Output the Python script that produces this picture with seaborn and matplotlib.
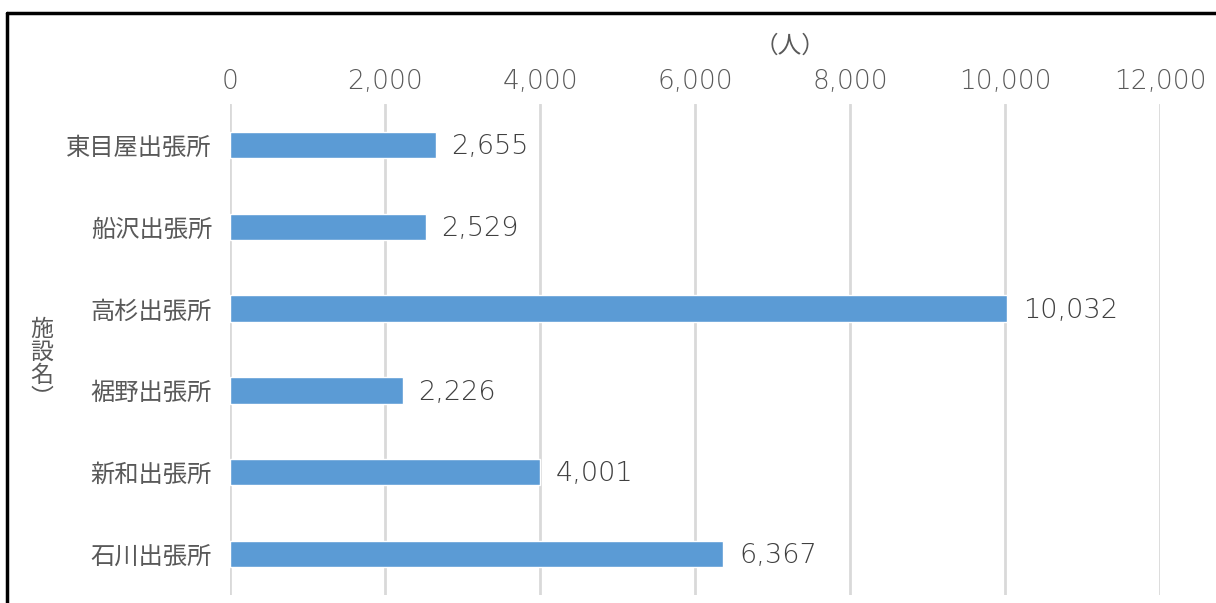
import matplotlib
matplotlib.use("Agg")
import matplotlib.pyplot as plt
import seaborn as sns
import pandas as pd
from matplotlib.lines import Line2D

categories = ["東目屋出張所", "船沢出張所", "高杉出張所", "裾野出張所", "新和出張所", "石川出張所"]
values = [2655, 2529, 10032, 2226, 4001, 6367]
x_ticks = [0, 2000, 4000, 6000, 8000, 10000, 12000]
x_unit = "（人）"
y_title = "施\n設\n名\n︶"

sns.set_theme(style="white")
plt.rcParams['font.family'] = ['Noto Sans CJK JP', 'DejaVu Sans']

num_font = dict(family=['DejaVu Sans'], weight='light')

df = pd.DataFrame({"name": categories, "value": values})

fig = plt.figure(figsize=(12.16, 6.03), dpi=100)
ax = fig.add_axes([230/1216, 1 - 595/603, 930/1216, (595 - 104)/603])

sns.barplot(data=df, x="value", y="name", orient="h", color="#5b9bd5",
            saturation=1, width=0.32, ax=ax, zorder=3)

ax.set_xlim(0, 12000)
ax.set_ylim(5.5, -0.5)
ax.set_xticks(x_ticks)
ax.set_xticklabels([f"{t:,}" for t in x_ticks], fontdict=dict(fontsize=19, **num_font))
ax.xaxis.tick_top()
ax.tick_params(axis="x", length=0, pad=7, labelcolor="#595959")
ax.tick_params(axis="y", length=0, pad=13, labelsize=17.5, labelcolor="#595959")
ax.set_xlabel("")
ax.set_ylabel("")
for s in ax.spines.values():
    s.set_visible(False)
ax.grid(False)
for t in x_ticks:
    ax.axvline(t, color="#d9d9d9", lw=2, zorder=1)

for i, v in enumerate(values):
    ax.text(v + 200, i + 0.02, f"{v:,}", va="center", ha="left", fontsize=19.5,
            color="#404040", **num_font)

fig.text(790/1216, 1 - 46/603, x_unit, ha="center", va="center", fontsize=17, color="#595959")
fig.text(42/1216, 1 - 364/603, y_title, ha="center", va="center", fontsize=16.5,
         color="#595959", linespacing=1.0)

# frame around figure (top and left visible)
fig.add_artist(Line2D([7/1216, 1.0], [1 - 13/603, 1 - 13/603], transform=fig.transFigure,
                      color="black", lw=2.5))
fig.add_artist(Line2D([7/1216, 7/1216], [1 - 13/603, 0], transform=fig.transFigure,
                      color="black", lw=2.5))

fig.savefig("out.png", dpi=100)
